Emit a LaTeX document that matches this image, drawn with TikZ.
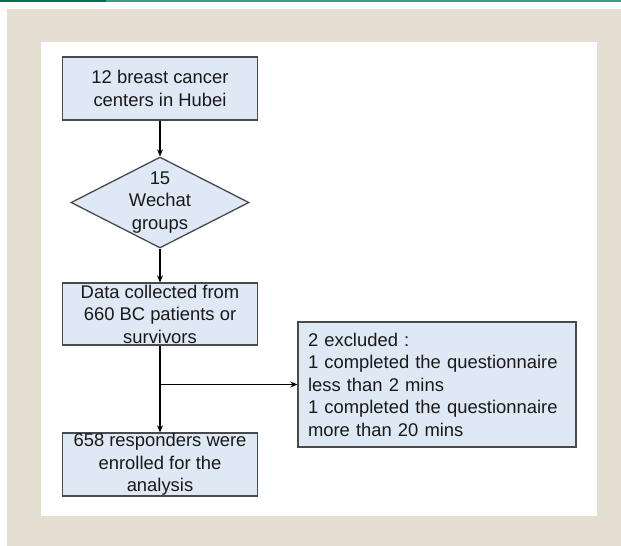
\documentclass[tikz,border=0pt]{standalone}
\usepackage{fontspec}
\setmainfont{Liberation Sans}
\usetikzlibrary{arrows.meta, shapes.geometric}
\definecolor{panelbeige}{HTML}{E5DFD3}
\definecolor{boxblue}{HTML}{DEE9F5}
\definecolor{boxline}{HTML}{4A4A4A}
\definecolor{bardark}{HTML}{00704F}
\definecolor{barlight}{HTML}{3F9B7B}

\begin{document}
\begin{tikzpicture}[x=1pt, y=-1pt,
    every node/.style={font=\fontsize{18.4}{22.5}\selectfont, text=black!90},
    box/.style={draw=boxline, line width=1.3pt, fill=boxblue, minimum width=195pt, inner xsep=4pt, inner ysep=0pt, align=center},
    boxtext/.style={align=center, inner sep=0pt},
    flow/.style={line width=1.4pt, -{Stealth[length=7pt, width=6pt]}}]
    % Fundo e moldura
    \useasboundingbox (0,0) rectangle (621,546);
    \fill[bardark] (0,0) rectangle (106,1.6);
    \fill[barlight] (106,0) rectangle (621,1.6);
    \fill[panelbeige] (7,9) rectangle (621,546);
    \fill[white] (41,42) rectangle (597,516);
    % Caixas do fluxo
    \node[box, minimum height=63pt] (centers) at (160,88.5) {12 breast cancer\\centers in Hubei};
    \node[diamond, draw=boxline, line width=1.3pt, fill=boxblue, minimum width=178pt, minimum height=91pt, inner sep=0pt] (groups) at (160,202.5) {};
    \node[boxtext] (groupstxt) at (groups) {15\\Wechat\\groups};
    \node[box, minimum height=62pt] (data) at (160,314) {Data collected from\\660 BC patients or\\survivors};
    \node[box, minimum height=63pt] (enrolled) at (160,464.5) {658 responders were\\enrolled for the\\analysis};
    \node[box, minimum height=125pt, text width=258pt, inner xsep=10pt, align=left] (excluded) at (437,384.5)
      {2 excluded :\\1 completed the questionnaire\\less than 2 mins\\1 completed the questionnaire\\more than 20 mins};
    % Setas
    \draw[flow] (centers) -- (groups);
    \draw[flow] (groups) -- (data);
    \draw[flow] (data) -- (enrolled);
    \coordinate (split) at (data.south |- excluded.west);
    \draw[flow] (split) -- (excluded.west);
\end{tikzpicture}
\end{document}
